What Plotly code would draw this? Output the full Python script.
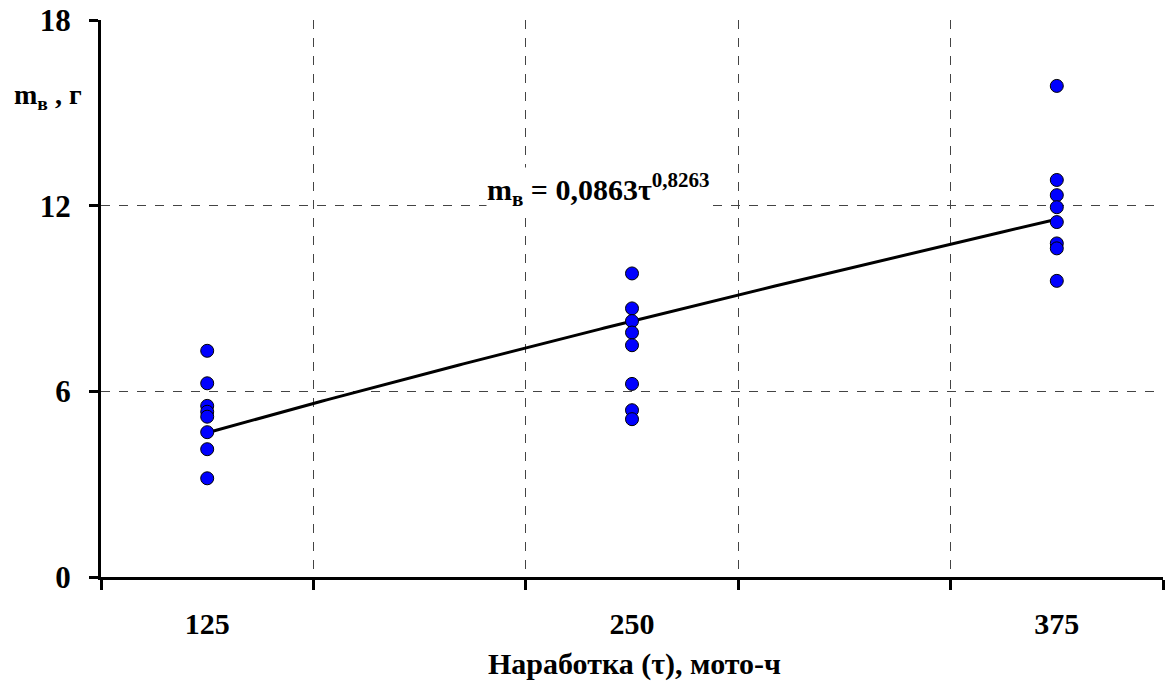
import numpy as np
import plotly.graph_objects as go

# Operating time groups (moto-hours) and measured mass values, g
tau_groups = [125, 250, 375]
m_125 = [7.31, 6.26, 5.53, 5.34, 5.18, 4.68, 4.13, 3.19]
m_250 = [9.81, 8.68, 8.27, 7.90, 7.49, 6.24, 5.39, 5.10]
m_375 = [15.87, 12.83, 12.34, 11.95, 11.47, 10.78, 10.62, 9.57]

# Power trend m = a * tau^b
coef_a = 0.0863
coef_b = 0.8263

y_ticks = [0, 6, 12, 18]
x_tick_labels = ["125", "250", "375"]

FONT = "Liberation Serif"

xs, ys = [], []
for t, vals in zip(tau_groups, [m_125, m_250, m_375]):
    xs += [t] * len(vals)
    ys += vals

tau_line = np.linspace(tau_groups[0], tau_groups[-1], 200)
m_line = coef_a * tau_line ** coef_b

fig = go.Figure()
fig.add_trace(go.Scatter(
    x=tau_line, y=m_line, mode="lines",
    line=dict(color="black", width=3), hoverinfo="skip", showlegend=False,
))
fig.add_trace(go.Scatter(
    x=xs, y=ys, mode="markers",
    marker=dict(size=13, color="#0000ff", line=dict(color="black", width=1)),
    showlegend=False,
))

fig.update_layout(
    width=1166, height=684,
    margin=dict(l=101, r=3, t=20, b=107),
    paper_bgcolor="white", plot_bgcolor="white",
    font=dict(family=FONT, color="black"),
    xaxis=dict(
        range=[93.75, 406.25],
        tickvals=tau_groups, ticktext=x_tick_labels,
        ticks="", showgrid=False, zeroline=False,
        showline=True, linecolor="black", linewidth=3,
        tickfont=dict(family=FONT, size=30, weight="bold"),
        ticklabelstandoff=18,
        minor=dict(tick0=93.75, dtick=62.5, ticks="outside", ticklen=10,
                   tickwidth=3, tickcolor="black",
                   showgrid=True, gridcolor="#444", griddash="dash", gridwidth=1),
    ),
    yaxis=dict(
        range=[0, 18], tickvals=y_ticks,
        ticks="outside", ticklen=9, tickwidth=3, tickcolor="black",
        showgrid=True, gridcolor="#444", griddash="dash", gridwidth=1,
        zeroline=False, showline=True, linecolor="black", linewidth=3,
        tickfont=dict(family=FONT, size=31, weight="bold"),
        ticklabelstandoff=12,
    ),
    annotations=[
        dict(text="m<sub>в</sub> , г", xref="paper", yref="paper",
             x=-0.0838, y=0.862, xanchor="left", yanchor="middle",
             showarrow=False, font=dict(family=FONT, size=28, weight="bold")),
        dict(text="Наработка (τ), мото-ч", xref="paper", yref="paper",
             x=(634 - 101) / 1062, y=-0.156, xanchor="center", yanchor="middle",
             showarrow=False, font=dict(family=FONT, size=30, weight="bold")),
        dict(text="m<sub>в</sub> = %sτ<sup>%s</sup>" % (
                str(coef_a).replace(".", ","), str(coef_b).replace(".", ",")),
             xref="paper", yref="paper",
             x=(486 - 101) / 1062, y=0.695, xanchor="left", yanchor="middle",
             bgcolor="white", borderpad=0,
             showarrow=False, font=dict(family=FONT, size=30, weight="bold")),
    ],
)

fig.write_html("out.html")
